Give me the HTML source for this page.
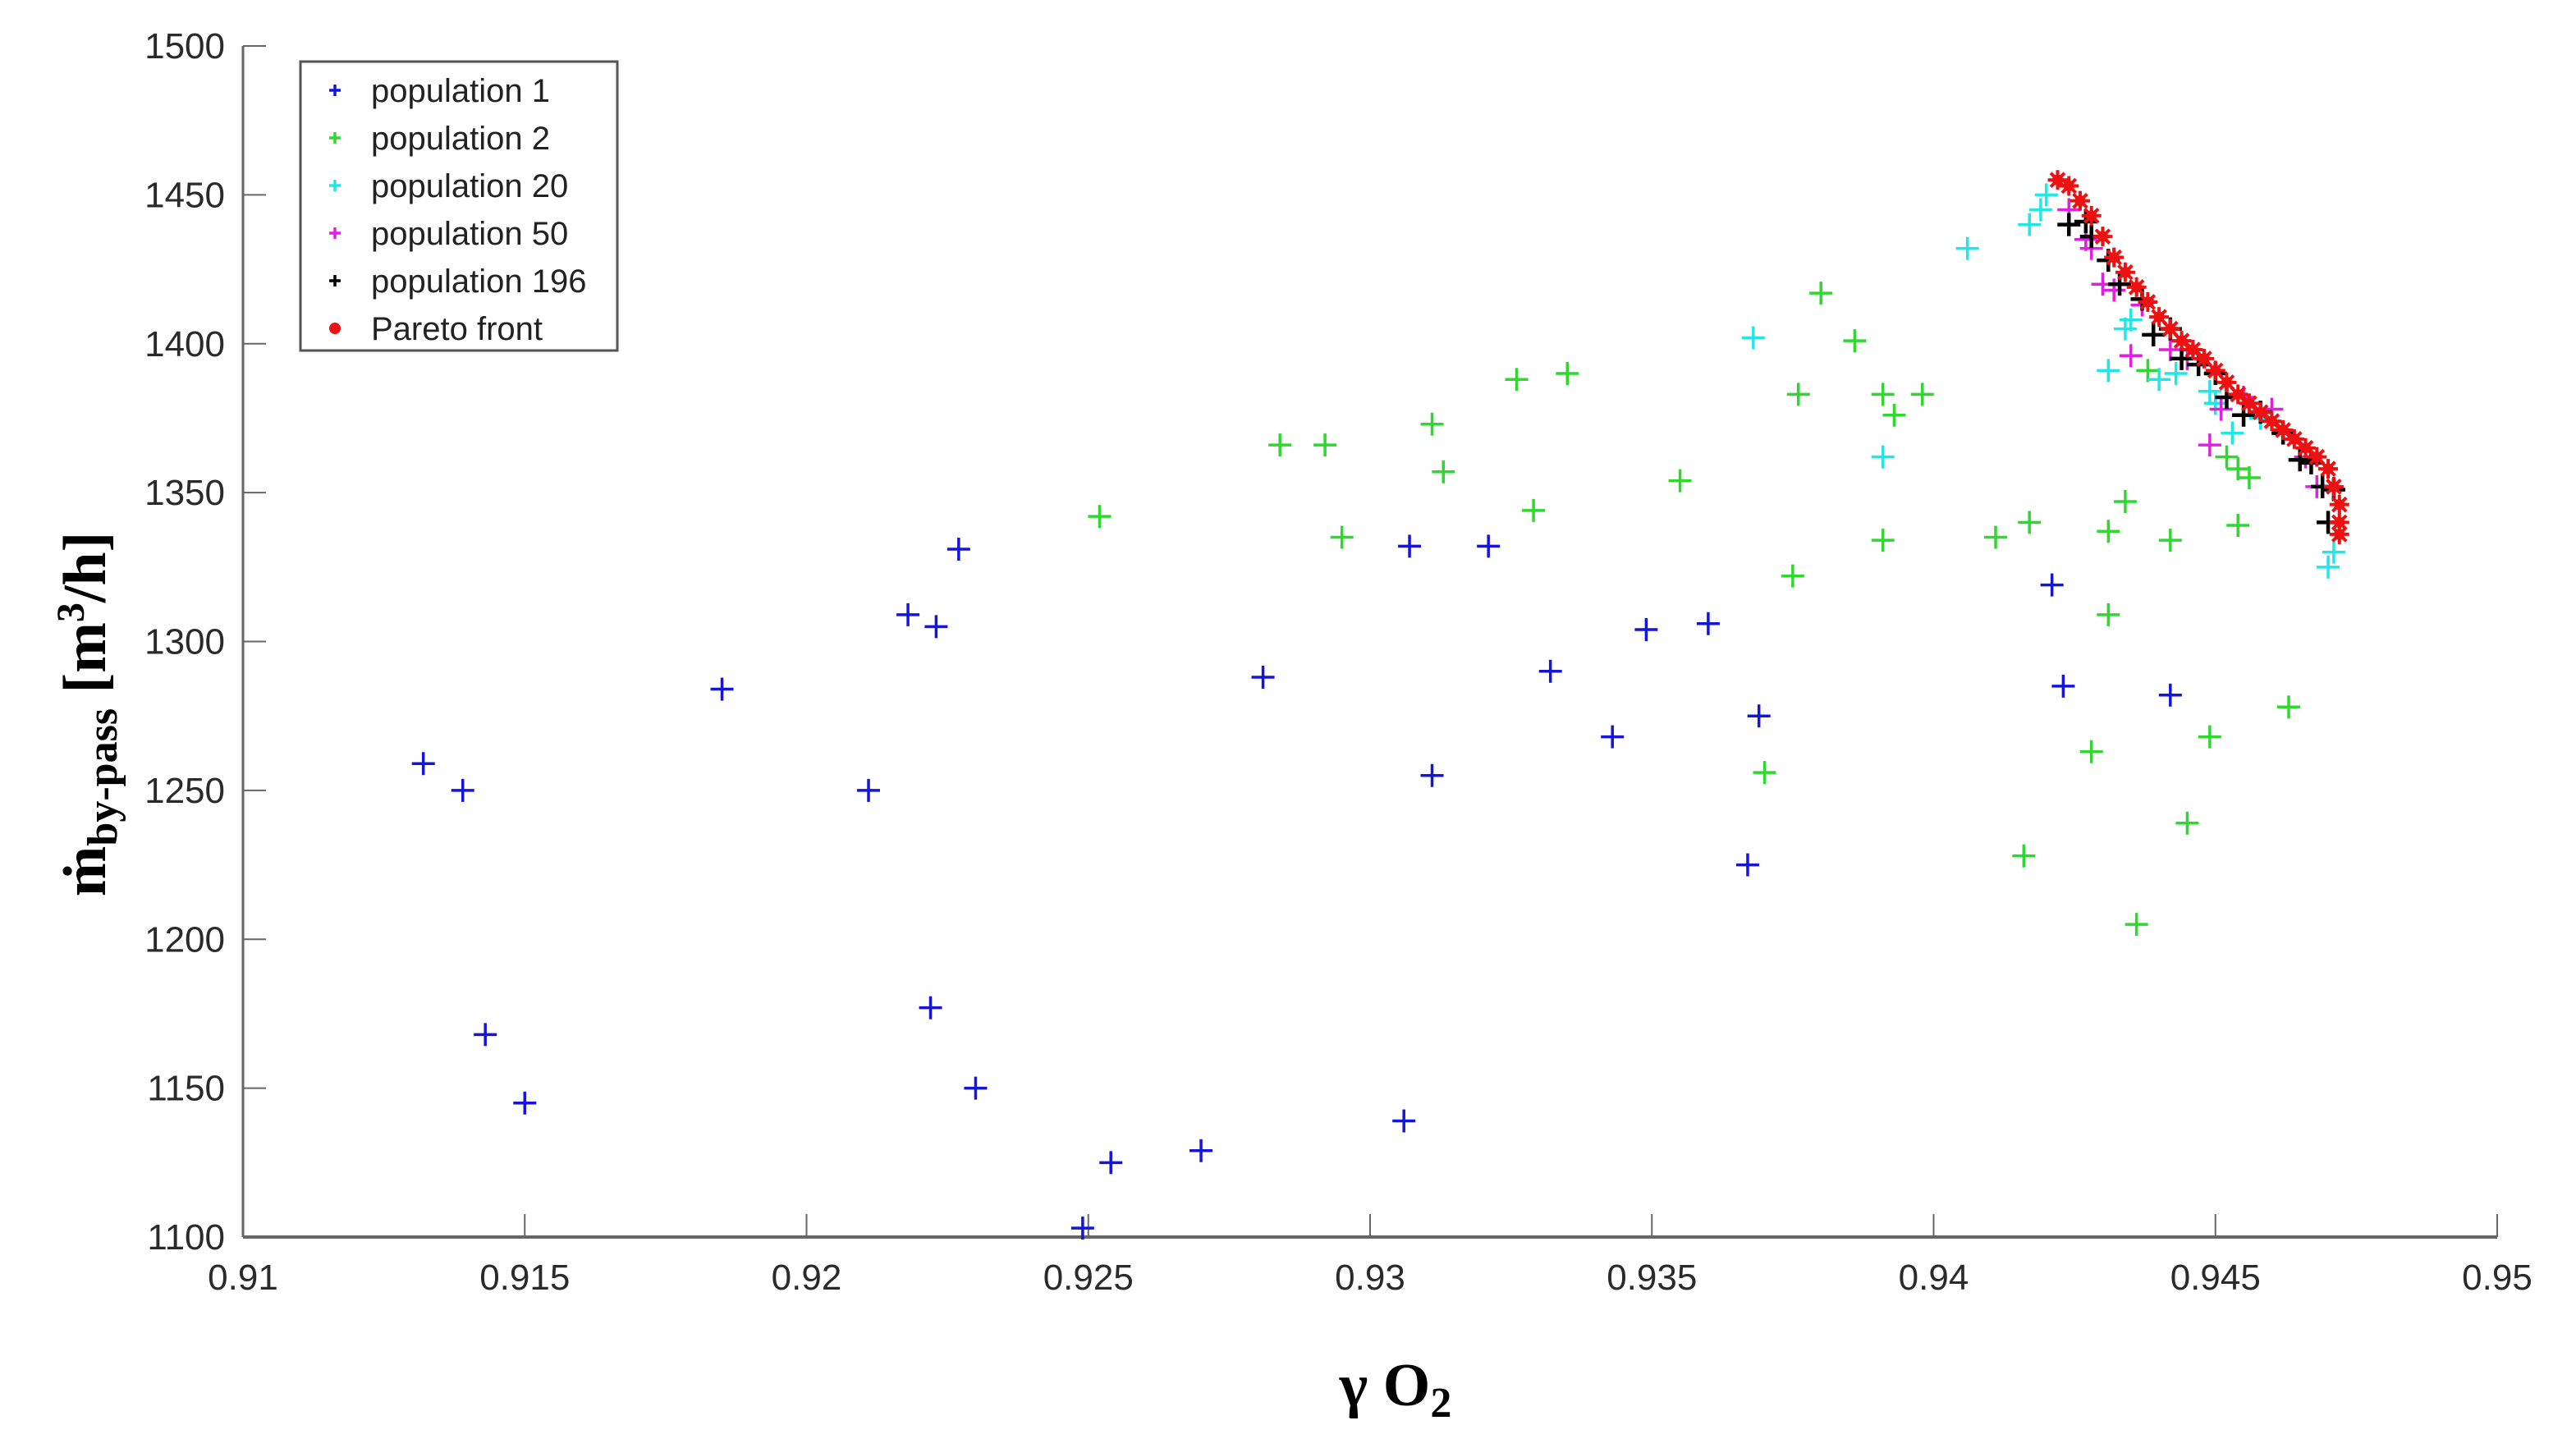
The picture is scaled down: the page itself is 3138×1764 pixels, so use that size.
<!DOCTYPE html>
<html><head><meta charset="utf-8"><style>
html,body{margin:0;padding:0;background:#fff;}
svg{display:block;}
text{font-family:"Liberation Sans",sans-serif;}
</style></head><body>
<svg id="chart" width="3138" height="1764" viewBox="0 0 3138 1764" xmlns="http://www.w3.org/2000/svg">
<rect width="3138" height="1764" fill="#fff"/>
<g id="axes"></g>
<g id="marks"></g>
<g id="legend"></g>
<text transform="translate(128,870) rotate(-90)" text-anchor="middle" style="font-family:'Liberation Serif',serif;font-weight:bold;font-size:74px;fill:#000">ṁ<tspan font-size="52" dy="14">by-pass</tspan><tspan dy="-14"> [m</tspan><tspan font-size="48" dy="-26">3</tspan><tspan dy="26">/h]</tspan></text>
<text x="1700" y="1712" text-anchor="middle" style="font-family:'Liberation Serif',serif;font-weight:bold;font-size:74px;fill:#000">γ O<tspan font-size="52" dy="14">2</tspan></text>
</svg>
<script>
const xTicks=[0.91,0.915,0.92,0.925,0.93,0.935,0.94,0.945,0.95];
const xTickLabels=["0.91","0.915","0.92","0.925","0.93","0.935","0.94","0.945","0.95"];
const yTicks=[1100,1150,1200,1250,1300,1350,1400,1450,1500];
const yTickLabels=["1100","1150","1200","1250","1300","1350","1400","1450","1500"];
const seriesNames=["population 1","population 2","population 20","population 50","population 196","Pareto front"];
const pop1X=[0.9132,0.9139,0.9143,0.9150,0.9185,0.9211,0.9218,0.9223,0.9227,0.9222,0.9230,0.9249,0.9254,0.9270,0.9281,0.9306,0.9307,0.9311,0.9321,0.9332,0.9343,0.9349,0.9360,0.9367,0.9369,0.9421,0.9423,0.9442];
const pop1Y=[1259,1250,1168,1145,1284,1250,1309,1305,1331,1177,1150,1103,1125,1129,1288,1139,1332,1255,1332,1290,1268,1304,1306,1225,1275,1319,1285,1282];
const pop2X=[0.9252,0.9284,0.9292,0.9295,0.9311,0.9313,0.9326,0.9329,0.9335,0.9355,0.9370,0.9375,0.9376,0.9380,0.9386,0.9391,0.9391,0.9393,0.9398,0.9411,0.9416,0.9417,0.9428,0.9431,0.9431,0.9434,0.9436,0.9438,0.9442,0.9445,0.9449,0.9452,0.9454,0.9454,0.9456,0.9463];
const pop2Y=[1342,1366,1366,1335,1373,1357,1388,1344,1390,1354,1256,1322,1383,1417,1401,1383,1334,1376,1383,1335,1228,1340,1263,1309,1337,1347,1205,1391,1334,1239,1268,1362,1339,1358,1355,1278];
const pop20X=[0.9406,0.9368,0.9391,0.9417,0.9419,0.9420,0.9431,0.9434,0.9435,0.9440,0.9443,0.9450,0.9453,0.9458,0.9470,0.9471,0.9449];
const pop20Y=[1432,1402,1362,1440,1445,1450,1391,1405,1408,1388,1390,1380,1370,1375,1325,1330,1384];
const pop50X=[0.9424,0.9428,0.9430,0.9432,0.9435,0.9442,0.9445,0.9449,0.9451,0.9455,0.9460,0.9466,0.9468,0.9427,0.9437];
const pop50Y=[1445,1432,1420,1418,1396,1398,1395,1366,1378,1382,1378,1362,1352,1435,1413];
const pop196X=[0.9424,0.9427,0.9428,0.9431,0.9433,0.9437,0.9439,0.9442,0.9444,0.9447,0.9450,0.9452,0.9455,0.9458,0.9462,0.9465,0.9467,0.9469,0.9470,0.9471];
const pop196Y=[1440,1441,1436,1428,1420,1415,1403,1405,1395,1393,1390,1382,1376,1377,1370,1361,1360,1352,1340,1351];
const paretoX=[0.9422,0.9424,0.9426,0.9428,0.9430,0.9432,0.9434,0.9436,0.9438,0.9440,0.9442,0.9444,0.9446,0.9448,0.9450,0.9452,0.9454,0.9456,0.9458,0.9460,0.9462,0.9464,0.9466,0.9468,0.9470,0.9471,0.9472,0.9472,0.9472];
const paretoY=[1455,1453,1448,1443,1436,1429,1424,1419,1414,1409,1405,1401,1398,1395,1391,1387,1383,1380,1377,1374,1371,1368,1365,1362,1358,1352,1346,1340,1336];

const NS="http://www.w3.org/2000/svg";
const X0=296,X1=3042,Y0=1507,Y1=56;
function xs(v){return X0+(v-0.91)/0.04*(X1-X0);}
function ys(v){return Y0-(v-1100)/400*(Y0-Y1);}
function mk(tag,attrs,parent){const e=document.createElementNS(NS,tag);for(const k in attrs)e.setAttribute(k,attrs[k]);parent.appendChild(e);return e;}
const axes=document.getElementById('axes'),marks=document.getElementById('marks'),legend=document.getElementById('legend');
let l=mk('line',{x1:X0,y1:Y1,x2:X0,y2:Y0,stroke:'#666','stroke-width':3},axes);


l=mk('line',{x1:X0,y1:Y0,x2:X1,y2:Y0,stroke:'#666','stroke-width':4},axes);


xTicks.forEach((t,i)=>{
 const x=xs(t);
 const tk=mk('line',{x1:x,y1:Y0,x2:x,y2:Y0-28,stroke:'#666','stroke-width':2},axes);
 
 
 const tx=mk('text',{x:x,y:Y0+64,'text-anchor':'middle','font-size':44,fill:'#2a2a2a'},axes);
 tx.textContent=xTickLabels[i];
 
 
});
yTicks.forEach((t,i)=>{
 const y=ys(t);
 const tk=mk('line',{x1:X0,y1:y,x2:X0+28,y2:y,stroke:'#666','stroke-width':2},axes);
 
 
 const tx=mk('text',{x:274,y:y+15,'text-anchor':'end','font-size':44,fill:'#2a2a2a'},axes);
 tx.textContent=yTickLabels[i];
 
 
});
function plus(x,y,c,r,parent,w){
 const g=mk('g',{},parent);
 mk('line',{x1:x-r,y1:y,x2:x+r,y2:y,stroke:c,'stroke-width':w||3.5},g);
 mk('line',{x1:x,y1:y-r,x2:x,y2:y+r,stroke:c,'stroke-width':w||3.5},g);
 return g;
}
function star(x,y,c,r,parent){
 const g=mk('g',{},parent);
 mk('line',{x1:x-r,y1:y,x2:x+r,y2:y,stroke:c,'stroke-width':4},g);
 mk('line',{x1:x,y1:y-r,x2:x,y2:y+r,stroke:c,'stroke-width':4},g);
 mk('line',{x1:x-r*0.7,y1:y-r*0.7,x2:x+r*0.7,y2:y+r*0.7,stroke:c,'stroke-width':4},g);
 mk('line',{x1:x-r*0.7,y1:y+r*0.7,x2:x+r*0.7,y2:y-r*0.7,stroke:c,'stroke-width':4},g);
 mk('circle',{cx:x,cy:y,r:r*0.55,fill:c},g);
 return g;
}
const series=[[pop1X,pop1Y,'#1515d8','pop1',3.5],[pop2X,pop2Y,'#2ed82e','pop2',3.5],[pop20X,pop20Y,'#22e6e6','pop20',3.5],[pop50X,pop50Y,'#e020e0','pop50',3.5],[pop196X,pop196Y,'#000','pop196',4.5]];
series.forEach(s=>{
 s[0].forEach((v,i)=>{
  const g=plus(xs(v),ys(s[1][i]),s[2],14,marks,s[4]);
  
  
 });
});
paretoX.forEach((v,i)=>{
 const g=star(xs(v),ys(paretoY[i]),'#ee1111',12,marks);
 
 
});
const box=mk('rect',{x:366,y:75,width:386,height:352,fill:'#fff',stroke:'#555','stroke-width':3},legend);


const lc=['#1515d8','#2ed82e','#22e6e6','#e020e0','#000','#ee1111'];
seriesNames.forEach((n,i)=>{
 const y=110+i*58;
 let m;
 if(i<5){m=plus(408,y,lc[i],7,legend);}else{m=mk('circle',{cx:408,cy:y,r:7,fill:lc[i]},legend);}
 
 
 const t=mk('text',{x:452,y:y+14,'font-size':40,fill:'#222'},legend);
 t.textContent=n;
 
 
});
</script>
</body></html>
